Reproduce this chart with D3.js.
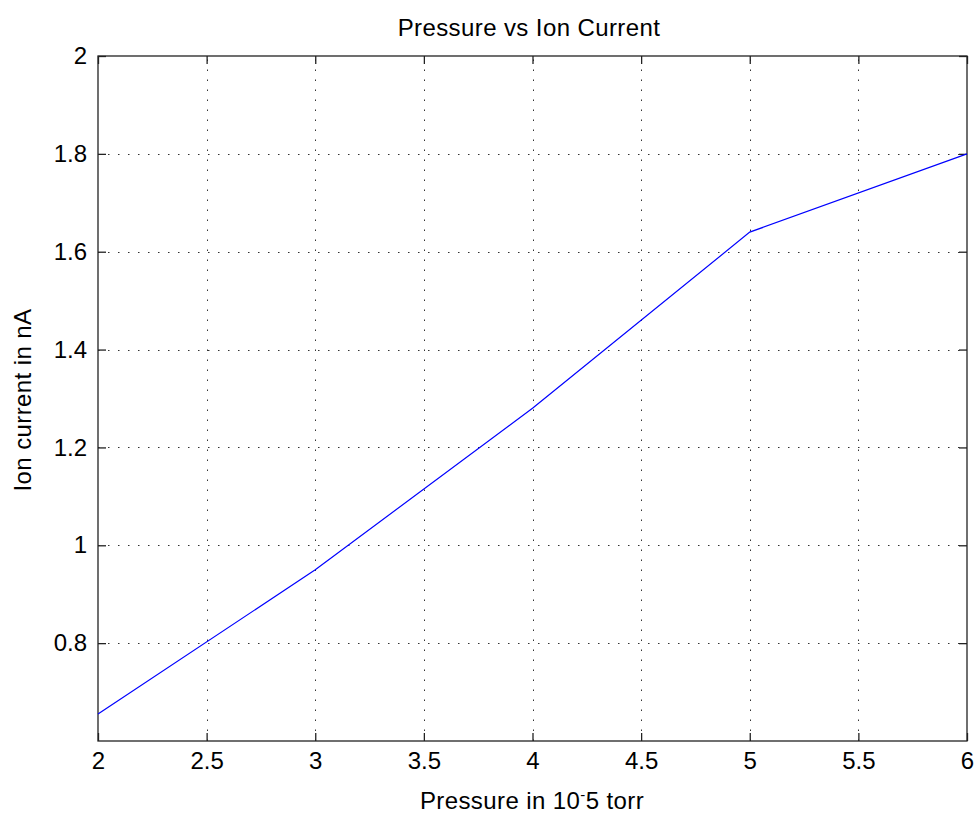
<!DOCTYPE html>
<html>
<head>
<meta charset="utf-8">
<script src="https://cdn.jsdelivr.net/npm/d3@7"></script>
<style>
  body { margin: 0; background: #fff; }
  text { font-family: "Liberation Sans", Arial, sans-serif; fill: #000; }
</style>
</head>
<body>
<script>
// data
var pressure = [2, 3, 4, 5, 6];
var ionCurrent = [0.655, 0.95, 1.28, 1.64, 1.8];
var xTicks = [2, 2.5, 3, 3.5, 4, 4.5, 5, 5.5, 6];
var yTicks = [0.8, 1, 1.2, 1.4, 1.6, 1.8, 2];

var W = 974, H = 817;
// plot box edges (note: "top" is taken by window.top, so use pTop etc.)
var pLeft = 98, pRight = 967, pTop = 56, pBottom = 741;

var svg = d3.select("body").append("svg")
        .attr("width", W)
        .attr("height", H);

var x = d3.scaleLinear().domain([2, 6]).range([pLeft, pRight]);
var y = d3.scaleLinear().domain([0.6, 2]).range([pBottom, pTop]);

// dotted grid
svg.selectAll("line.gx")
        .data(xTicks.slice(1, -1))
        .enter().append("line")
                .attr("x1", function(d){ return Math.round(x(d)) + 0.5; })
                .attr("x2", function(d){ return Math.round(x(d)) + 0.5; })
                .attr("y1", pBottom).attr("y2", pTop)
                .attr("stroke", "#333")
                .attr("stroke-dasharray", "1.5,8.5");

svg.selectAll("line.gy")
        .data(yTicks.slice(0, -1))
        .enter().append("line")
                .attr("y1", function(d){ return Math.round(y(d)) + 0.5; })
                .attr("y2", function(d){ return Math.round(y(d)) + 0.5; })
                .attr("x1", pLeft).attr("x2", pRight)
                .attr("stroke", "#333")
                .attr("stroke-dasharray", "1.5,8.5");

// axes, ticks pointing inward, on all four sides
var tk = 8;
var fmt = function(d){ return String(d); };
var gx = svg.append("g").attr("transform", "translate(0," + pBottom + ")")
        .call(d3.axisBottom(x).tickValues(xTicks).tickFormat(fmt).tickSize(-tk).tickPadding(11));
var gxt = svg.append("g").attr("transform", "translate(0," + pTop + ")")
        .call(d3.axisTop(x).tickValues(xTicks).tickSize(-tk).tickFormat(""));
var gy = svg.append("g").attr("transform", "translate(" + pLeft + ",0)")
        .call(d3.axisLeft(y).tickValues(yTicks).tickFormat(fmt).tickSize(-tk).tickPadding(11));
var gyr = svg.append("g").attr("transform", "translate(" + pRight + ",0)")
        .call(d3.axisRight(y).tickValues(yTicks).tickSize(-tk).tickFormat(""));

[gx, gxt, gy, gyr].forEach(function(g){
        g.selectAll(".domain").remove();
        g.selectAll("line").attr("stroke", "#222").attr("stroke-width", 1.3);
        g.selectAll("text").style("font-size", "24px").attr("fill", "#000");
});

// box
svg.append("rect")
        .attr("x", pLeft).attr("y", pTop)
        .attr("width", pRight - pLeft).attr("height", pBottom - pTop)
        .attr("fill", "none").attr("stroke", "#222").attr("stroke-width", 1.3);

// the series
var line = d3.line()
        .x(function(d, i){ return x(pressure[i]); })
        .y(function(d){ return y(d); });

svg.append("path")
        .datum(ionCurrent)
        .attr("d", line)
        .attr("fill", "none")
        .attr("stroke", "#0000ff")
        .attr("stroke-width", 1.2);

// labels
svg.append("text")
        .attr("x", 529).attr("y", 36)
        .attr("text-anchor", "middle")
        .style("font-size", "24px")
        .style("letter-spacing", "0.4px")
        .text("Pressure vs Ion Current");

var xl = svg.append("text")
        .attr("x", 532).attr("y", 809)
        .attr("text-anchor", "middle")
        .style("font-size", "24px")
        .style("letter-spacing", "0.4px");
xl.append("tspan").text("Pressure in 10");
xl.append("tspan").attr("dy", -9).style("font-size", "15px").text("-");
xl.append("tspan").attr("dy", 9).text("5 torr");

svg.append("text")
        .attr("transform", "translate(31,400) rotate(-90)")
        .attr("text-anchor", "middle")
        .style("font-size", "24px")
        .style("letter-spacing", "0.4px")
        .text("Ion current in nA");
</script>
</body>
</html>
